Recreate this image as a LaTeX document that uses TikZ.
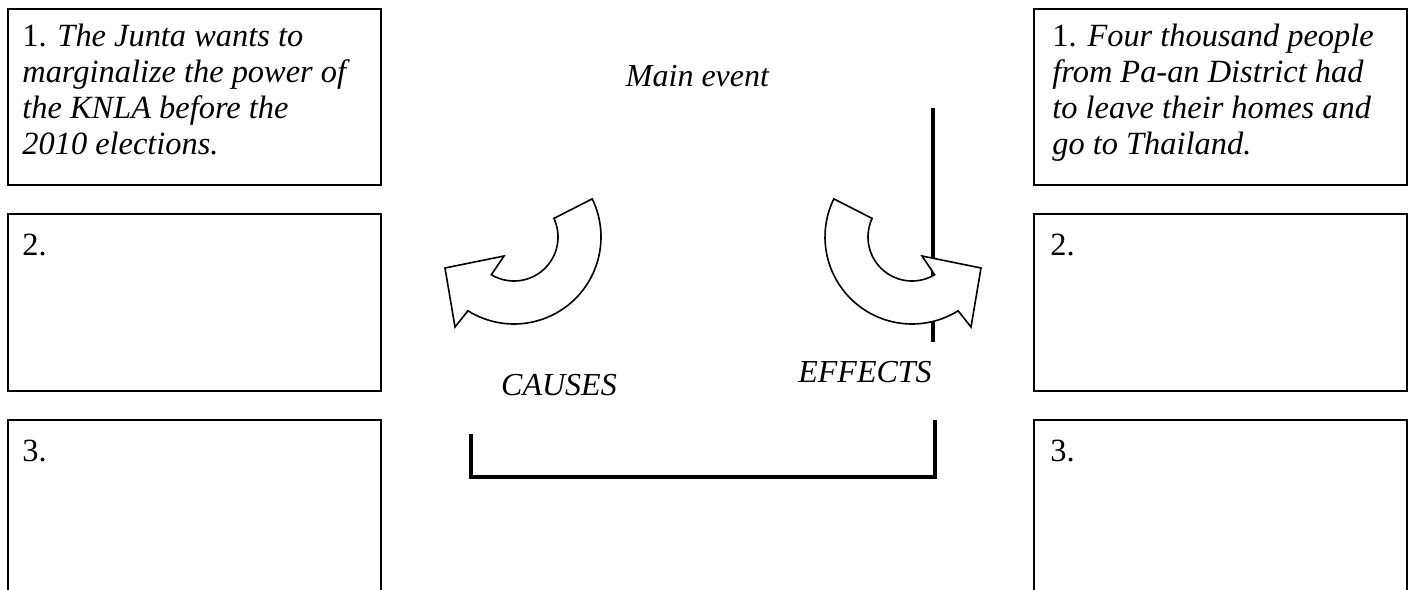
\documentclass[tikz,border=0pt]{standalone}
\usepackage{fontspec}
\setmainfont{Liberation Serif}
\begin{document}
\begin{tikzpicture}[x=0.5pt,y=-0.5pt,
  box/.style={draw=black, line width=1pt, outer sep=0pt, inner sep=0pt, anchor=north west, minimum width=186.5pt},
  txt/.style={font=\fontsize{16.2}{18}\selectfont\itshape, align=left, anchor=north west, inner sep=0pt},
  lbl/.style={font=\fontsize{16}{18}\selectfont\itshape, inner sep=0pt, anchor=base},
  heavy/.style={line width=2.4pt, line join=miter},
  ring/.style={draw=black, fill=white, line width=0.8pt, line join=miter}]
\useasboundingbox (0,0) rectangle (1416,589);
\clip (0,0) rectangle (1416,589);

% left boxes (causes)
\node[box, minimum height=88pt] (c1) at (8,9) {};
\node[box, minimum height=88.5pt] (c2) at (8,214) {};
\node[box, minimum height=110pt] (c3) at (8,420) {};
% right boxes (effects)
\node[box, minimum height=88pt] (e1) at (1034,9) {};
\node[box, minimum height=88.5pt] (e2) at (1034,214) {};
\node[box, minimum height=110pt] (e3) at (1034,420) {};

\node[txt] (tc1) at ([shift={(14,15)}]c1.north west)
  {\textup{1.} The Junta wants to\\marginalize the power of\\the KNLA before the\\2010 elections.};
\node[txt] (tc2) at ([shift={(14,20)}]c2.north west) {\textup{2.}};
\node[txt] (tc3) at ([shift={(14,20)}]c3.north west) {\textup{3.}};
\node[txt] (te1) at ([shift={(18,15)}]e1.north west)
  {\textup{1.} Four thousand people\\from Pa-an District had\\to leave their homes and\\go to Thailand.};
\node[txt] (te2) at ([shift={(16,20)}]e2.north west) {\textup{2.}};
\node[txt] (te3) at ([shift={(16,20)}]e3.north west) {\textup{3.}};

% labels
\node[lbl] (main) at (697.5,86) {Main event};
\node[lbl] (causes) at (559,395) {CAUSES};
\node[lbl] (effects) at (865,382) {EFFECTS};

% vertical line and bracket
\coordinate (v1) at (933,108);
\coordinate (v2) at (933,342);
\draw[heavy] (v1) -- (v2);
\coordinate (b1) at (471,434);
\coordinate (b2) at (471,477);
\coordinate (b3) at (935,477);
\coordinate (b4) at (935,420);
\draw[heavy] (b1) -- (b2) -- (b3) -- (b4);

% curved block arrows
\draw[ring] plot[domain=-26:122, samples=50] ({514+87*cos(\x)},{237+87*sin(\x)})
  -- (455,327) -- (445,268) -- (504,256)
  -- plot[domain=121:-25, samples=50] ({514+44*cos(\x)},{237+44*sin(\x)}) -- cycle;
\draw[ring] plot[domain=-26:122, samples=50] ({912-87*cos(\x)},{237+87*sin(\x)})
  -- (971,327) -- (981,268) -- (922,256)
  -- plot[domain=121:-25, samples=50] ({912-44*cos(\x)},{237+44*sin(\x)}) -- cycle;
\end{tikzpicture}
\end{document}
